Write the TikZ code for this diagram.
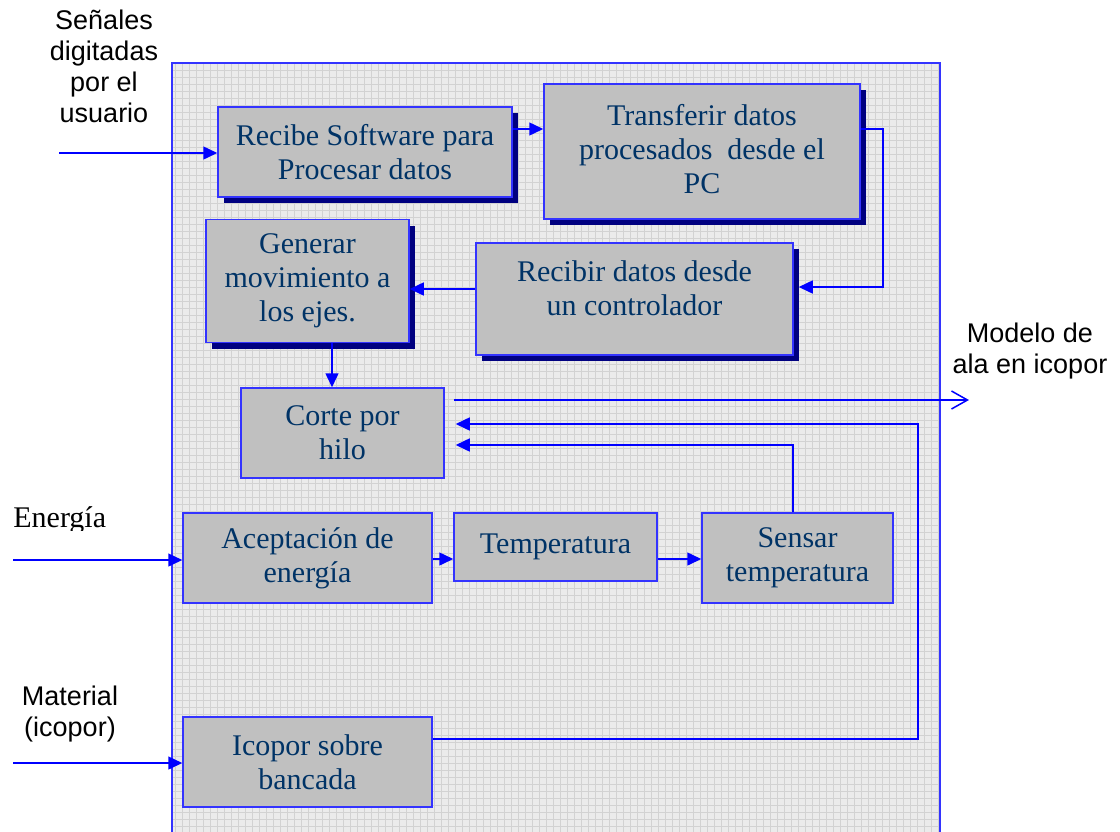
\documentclass[tikz,border=0pt]{standalone}
\usepackage{fontspec}
\setmainfont{Liberation Serif}
\newfontfamily\labelfont{Liberation Sans}
\usetikzlibrary{arrows.meta,shadows}

\definecolor{boxfill}{HTML}{C0C0C0}
\definecolor{boxline}{HTML}{3333FF}
\definecolor{flowblue}{HTML}{0000FF}
\definecolor{shadenavy}{HTML}{000080}
\definecolor{textnavy}{HTML}{003366}
\definecolor{panelfill}{HTML}{EBEBEB}
\definecolor{panelgrid}{HTML}{D2D2D2}

\tikzset{
  proc/.style={draw=boxline, fill=boxfill, line width=0.75pt, text=textnavy,
    font=\fontsize{15}{17}\selectfont, align=center, inner sep=0pt},
  shaded/.style={drop shadow={shadow xshift=3pt, shadow yshift=-3pt,
    fill=shadenavy, opacity=1}},
  flow/.style={draw=flowblue, line width=0.75pt, -{Triangle[length=7pt,width=6.5pt]}},
  outflow/.style={draw=flowblue, line width=0.75pt, -{Straight Barb[length=8pt,width=9pt]}},
  lbl/.style={font=\labelfont\fontsize{13.5}{15.5}\selectfont, align=center, inner sep=0pt}
}

\begin{document}
\begin{tikzpicture}[x=0.5pt, y=-0.5pt]
  \useasboundingbox (0,0) rectangle (1120,831);
  % panel
  \fill[panelfill] (172,63) rectangle (940,835);
  \draw[panelgrid, line width=0.3pt, step=3.5pt] (172,63) grid (940,835);
  \draw[boxline, line width=1pt] (172,835) -- (172,63) -- (940,63) -- (940,835);

  % process boxes
  \node[proc, shaded, minimum width=147pt, minimum height=45pt] (rs) at (365,152)
    {Recibe Software para\\Procesar datos};
  \node[proc, shaded, minimum width=158pt, minimum height=67.5pt, text depth=3pt] (tf) at (702,151.5)
    {Transferir datos\\procesados~ desde el\\PC};
  \node[proc, shaded, minimum width=158.5pt, minimum height=56pt, text depth=11pt] (rc) at (634.5,299)
    {Recibir datos desde\\un controlador};
  \node[proc, shaded, minimum width=101.5pt, minimum height=61.5pt] (gm) at (307.5,281)
    {Generar\\movimiento a\\los ejes.};
  \node[proc, minimum width=101.5pt, minimum height=45pt] (ch) at (342.5,433)
    {Corte por\\hilo};
  \node[proc, minimum width=124.5pt, minimum height=45pt] (ae) at (307.5,558)
    {Aceptación de\\energía};
  \node[proc, minimum width=101.5pt, minimum height=34pt] (tp) at (555.5,547)
    {Temperatura};
  \node[proc, minimum width=95.5pt, minimum height=45pt] (st) at (797.5,558)
    {Sensar\\temperatura};
  \node[proc, minimum width=124.5pt, minimum height=45pt] (ib) at (307.5,762)
    {Icopor sobre\\bancada};

  % outer labels
  \node[lbl] (senales) at (104,66) {Señales\\digitadas\\por el\\usuario};
  \node[lbl] (modelo) at (1030,351) {Modelo de\\ala en icopor};
  \node[lbl] (material) at (70,714) {Material\\(icopor)};
  \begin{scope}
    \clip (0,500) rectangle (170,530);
    \node[font=\fontsize{15}{17}\selectfont, anchor=base west, inner sep=0pt] (energia) at (13,527) {Energía};
  \end{scope}

  % connectors
  \coordinate (inSen) at (59,153);
  \coordinate (inEn) at (13,560);
  \coordinate (inMat) at (13,763);
  \coordinate (tfTurn) at (883,129);
  \coordinate (outEnd) at (969,400);
  \coordinate (loopTop) at (918,424);
  \draw[flow] (inSen) -- (inSen -| rs.west);
  \draw[flow] (rs.east |- tfTurn) -- (tf.west |- tfTurn);
  \draw[flow] (tf.east |- tfTurn) -- (tfTurn) |- ([xshift=2.5pt]rc.east |- 0,287);
  \draw[flow] (rc.west |- 0,289) -- (gm.east |- 0,289);
  \draw[flow] (gm.south -| 332,0) -- (ch.north -| 332,0);
  \draw[outflow] ([xshift=4.5pt]ch.east |- outEnd) -- (outEnd);
  \draw[flow] (ib.east |- 0,739) -| (loopTop) -- ([xshift=5.5pt]ch.east |- loopTop);
  \draw[flow] (st.north -| 793,0) |- ([xshift=5.5pt]ch.east |- 0,445);
  \draw[flow] (inEn) -- (inEn -| ae.west);
  \draw[flow] (ae.east |- 0,559) -- (tp.west |- 0,559);
  \draw[flow] (tp.east |- 0,559) -- (st.west |- 0,559);
  \draw[flow] (inMat) -- (inMat -| ib.west);
\end{tikzpicture}
\end{document}
